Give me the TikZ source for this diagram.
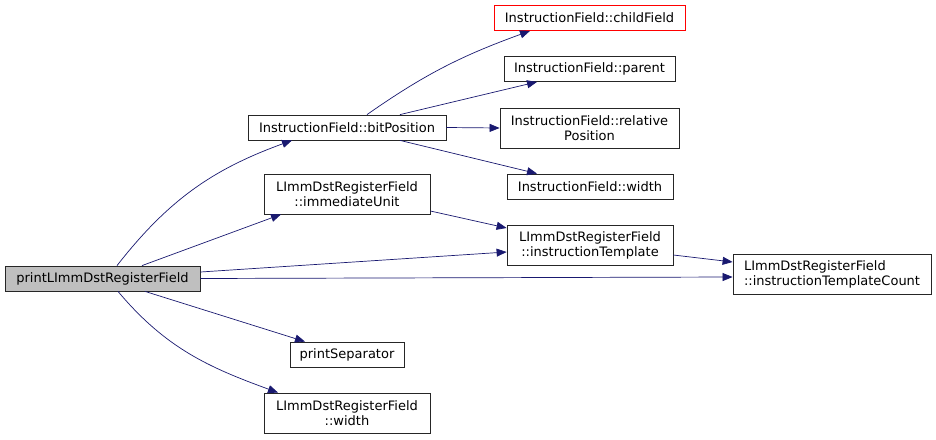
\documentclass[tikz,border=0pt]{standalone}
\usepackage{fontspec}
\setmainfont{DejaVu Sans}
\usetikzlibrary{arrows.meta}
\definecolor{edgeblue}{RGB}{25,25,112}
\definecolor{maingray}{RGB}{191,191,191}

\begin{document}
\begin{tikzpicture}[x=1pt,y=-1pt,
			func node/.style={rectangle,draw=black!85,line width=0.8pt,fill=white,inner sep=0pt,align=center,
				font=\fontsize{13}{15}\selectfont,minimum height=25pt},
			main node/.style={func node,fill=maingray},
			miss node/.style={func node,draw=red},
			call/.style={draw=edgeblue,line width=0.7pt,-{Triangle[length=10pt,width=8pt]}}
			]
			
			\useasboundingbox (0,0) rectangle (936,439);
			
			\node[main node,minimum width=195pt] at (102.5,278.5) (main) {printLImmDstRegisterField};
			
			\node[func node,minimum width=198pt] at (347,127.5) (bitpos) {InstructionField::bitPosition};
			\node[func node,minimum width=166pt,minimum height=40pt] at (347,194) (immunit) {LImmDstRegisterField\\::immediateUnit};
			\node[func node,minimum width=114pt] at (347,354.5) (sep) {printSeparator};
			\node[func node,minimum width=166pt,minimum height=40pt] at (347,413) (lwidth) {LImmDstRegisterField\\::width};
			
			\node[miss node,minimum width=191pt] at (589.5,18) (child) {InstructionField::childField};
			\node[func node,minimum width=171pt] at (589.5,69) (parent) {InstructionField::parent};
			\node[func node,minimum width=179pt,minimum height=40pt] at (589.5,128) (relpos) {InstructionField::relative\\Position};
			\node[func node,minimum width=166pt] at (590,186.5) (ifwidth) {InstructionField::width};
			\node[func node,minimum width=166pt,minimum height=40pt] at (590,245) (template) {LImmDstRegisterField\\::instructionTemplate};
			\node[func node,align=left,text width=176pt,inner xsep=11pt,minimum height=40pt] at (832,274.5) (count) {LImmDstRegisterField\\::instructionTemplateCount};
			
			% calls from printLImmDstRegisterField
			\draw[call] ([xshift=14.5pt]main.north) to[out=52,in=200] ([xshift=-55pt]bitpos.south);
			\draw[call] ([xshift=39.5pt]main.north) -- ([xshift=-66pt]immunit.south);
			\draw[call] ([yshift=6.5pt]main.east) -- ([yshift=-7pt]template.west);
			\draw[call] (main.east) -- ([yshift=-2.5pt]count.west);
			\draw[call] ([xshift=42.5pt]main.south) -- ([xshift=-42pt]sep.north);
			\draw[call] ([xshift=15.5pt]main.south) to[out=-50,in=160] ([xshift=-69pt]lwidth.north);
			
			% calls from bitPosition
			\draw[call] ([xshift=20pt]bitpos.north) to[out=35,in=200] ([xshift=-59.5pt]child.south);
			\draw[call] ([xshift=53pt]bitpos.north) -- ([xshift=-52.5pt]parent.south);
			\draw[call] (bitpos.east) -- (relpos.west);
			\draw[call] ([xshift=53pt]bitpos.south) -- ([xshift=-53pt]ifwidth.north);
			
			\draw[call] ([yshift=-17pt]immunit.east) -- ([yshift=17pt]template.west);
			\draw[call] ([yshift=-10pt]template.east) -- ([yshift=12.5pt]count.west);
			\end{tikzpicture}
\end{document}
